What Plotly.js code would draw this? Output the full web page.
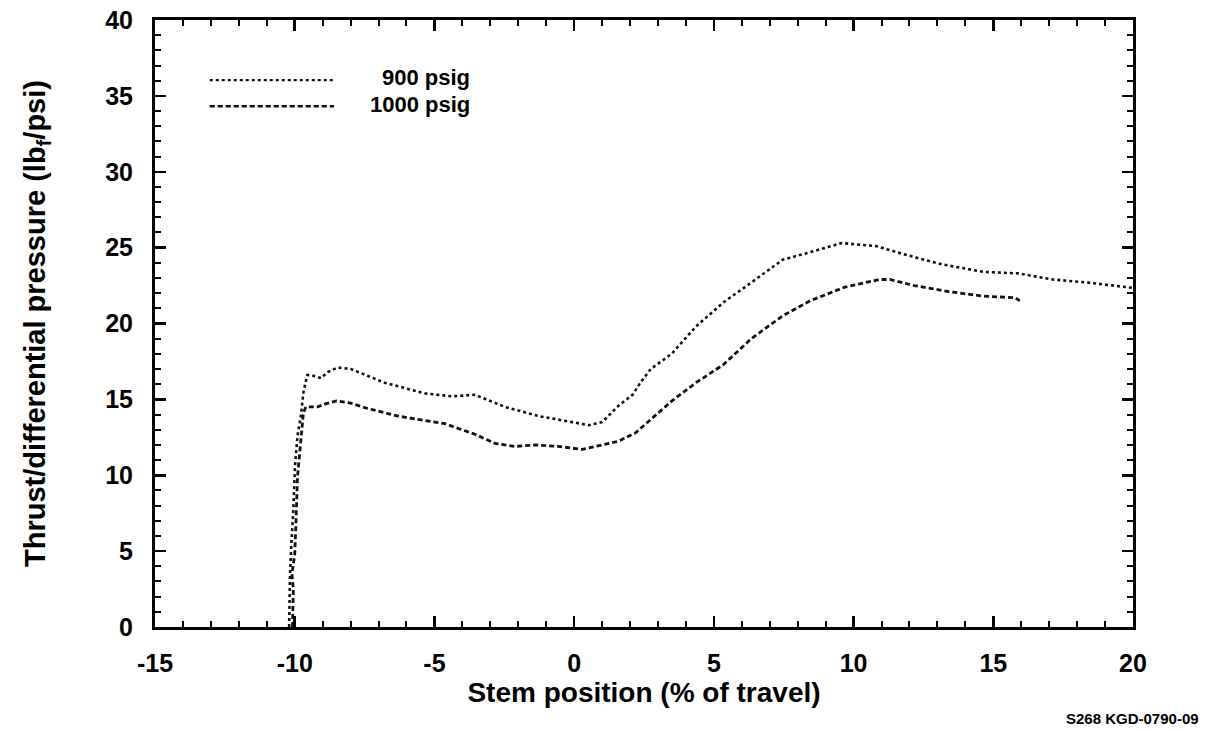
<!DOCTYPE html>
<html>
<head>
<meta charset="utf-8">
<script src="https://cdn.plot.ly/plotly-3.0.1.min.js"></script>
<style>html,body{margin:0;padding:0;background:#fff;}#chart{width:1220px;height:731px;}</style>
</head>
<body>
<div id="chart"></div>
<script>
// ---- Data ----
const x900 = [-10.2,-10.17,-10.12,-10.05,-9.99,-9.9,-9.78,-9.69,-9.55,-9.42,-9.06,-8.82,-8.46,-7.99,-6.79,-5.35,-4.39,-3.55,-2.47,-1.27,-0.07,0.53,1.0,1.6,2.09,2.37,2.74,3.49,4.36,5.35,6.34,7.46,8.45,9.57,10.81,11.92,13.16,14.65,15.89,17.13,18.37,19.98];
const y900 = [0,3.3,5.5,7.7,10.6,12.6,13.9,15.45,16.6,16.6,16.4,16.8,17.1,17.0,16.1,15.4,15.2,15.3,14.5,13.9,13.5,13.3,13.5,14.6,15.3,16.1,17.0,18.0,19.8,21.4,22.7,24.2,24.7,25.3,25.1,24.5,23.9,23.4,23.3,22.9,22.7,22.35];

const x1000 = [-10.08,-10.05,-10.1,-10.0,-9.96,-9.9,-9.8,-9.69,-9.6,-9.19,-8.9,-8.5,-8.0,-7.39,-6.31,-5.59,-4.63,-3.55,-2.83,-2.11,-1.39,-0.55,0.29,1.0,1.6,2.2,2.74,3.5,4.36,5.35,6.34,7.46,8.45,9.69,10.93,11.3,12.17,13.41,14.65,15.77,15.95];
const y1000 = [0,2.5,3.5,4.8,6.6,9.9,11.9,14.1,14.5,14.5,14.7,14.9,14.75,14.4,13.9,13.7,13.4,12.7,12.1,11.9,12.0,11.9,11.7,12.0,12.25,12.8,13.7,14.9,16.1,17.3,19.0,20.5,21.5,22.4,22.9,22.9,22.5,22.1,21.8,21.7,21.5];

const xTickVals = [-15,-10,-5,0,5,10,15,20];
const xTickText = ["-15","-10","-5","0","5","10","15","20"];
const yTickVals = [0,5,10,15,20,25,30,35,40];
const yTickText = ["0","5","10","15","20","25","30","35","40"];

const seriesNames = ["900 psig","1000 psig"];

const FONT = "Liberation Sans, Arial, sans-serif";

const traces = [
  {x: x900, y: y900, mode: "lines", name: seriesNames[0],
   line: {color: "#111", width: 2.6, dash: "dot"}, showlegend: false},
  {x: x1000, y: y1000, mode: "lines", name: seriesNames[1],
   line: {color: "#111", width: 2.8, dash: "5px,3px"}, showlegend: false}
];

const axisCommon = {
  showgrid: false, zeroline: false, showline: true, linecolor: "#000", linewidth: 3,
  mirror: "ticks", ticks: "inside", ticklen: 11, tickwidth: 2.5, tickcolor: "#000",
  tickmode: "array",
  tickfont: {family: FONT, size: 25, color: "#000", weight: "bold"},
  minor: {ticks: "inside", ticklen: 6, tickwidth: 2, tickcolor: "#000", dtick: 1, showgrid: false}
};

const layout = {
  width: 1220, height: 731,
  paper_bgcolor: "#fff", plot_bgcolor: "#fff",
  margin: {l: 155, r: 87, t: 20, b: 104},
  showlegend: false,
  xaxis: Object.assign({}, axisCommon, {
    range: [-15, 20], tickvals: xTickVals, ticktext: xTickText,
    ticklabelstandoff: 12,
    title: {text: "Stem position (% of travel)", font: {family: FONT, size: 28, color: "#000", weight: 600}, standoff: 6}
  }),
  yaxis: Object.assign({}, axisCommon, {
    range: [0, 40], tickvals: yTickVals, ticktext: yTickText,
    ticklabelstandoff: 14,
    title: {text: "Thrust/differential pressure (lb<sub>f</sub>/psi)", font: {family: FONT, size: 29, color: "#000", weight: 600}, standoff: 52}
  }),
  shapes: [
    {type: "line", xref: "paper", yref: "paper", x0: 0.056, x1: 0.183, y0: 0.901, y1: 0.901,
     line: {color: "#111", width: 2.4, dash: "dot"}},
    {type: "line", xref: "paper", yref: "paper", x0: 0.056, x1: 0.183, y0: 0.858, y1: 0.858,
     line: {color: "#111", width: 2.6, dash: "5px,3px"}}
  ],
  annotations: [
    {xref: "paper", yref: "paper", x: 0.324, y: 0.905, xanchor: "right", yanchor: "middle",
     text: seriesNames[0], showarrow: false, font: {family: FONT, size: 22, color: "#000", weight: "bold"}},
    {xref: "paper", yref: "paper", x: 0.324, y: 0.861, xanchor: "right", yanchor: "middle",
     text: seriesNames[1], showarrow: false, font: {family: FONT, size: 22, color: "#000", weight: "bold"}},
    {xref: "paper", yref: "paper", x: 1.07, y: -0.15, xanchor: "right", yanchor: "middle",
     text: "S268 KGD-0790-09", showarrow: false, font: {family: FONT, size: 15, color: "#000", weight: "bold"}}
  ]
};

Plotly.newPlot("chart", traces, layout, {displayModeBar: false, staticPlot: true});
</script>
</body>
</html>
